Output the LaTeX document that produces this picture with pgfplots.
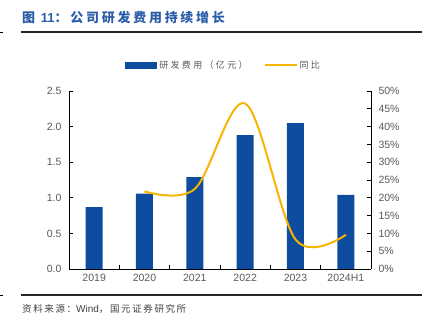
\documentclass[border=0pt]{standalone}
\usepackage{pgfplots}
\pgfplotsset{compat=1.18}
\usepackage{fontspec}
\setmainfont{Liberation Sans}
\newfontfamily\cjk{Noto Sans CJK SC}
\definecolor{barblue}{HTML}{0D4C9F}
\definecolor{linegold}{HTML}{F7B500}
\definecolor{titleblue}{HTML}{2A5CA8}
\definecolor{ticktext}{HTML}{595959}
\begin{document}
\begin{tikzpicture}[x=1pt,y=1pt]
\path[use as bounding box] (0,0) rectangle (429,326);
% title and rules
\node[anchor=west,inner sep=0pt,text=titleblue,font=\cjk\bfseries\addfontfeatures{LetterSpace=21}\fontsize{13}{14}\selectfont] at (22,308) {图 {\rmfamily\bfseries 11}：公司研发费用持续增长};
\draw[line width=1.4pt,black!85] (21,294) -- (422,294);
\draw[line width=1.2pt,black!85] (21,31) -- (422,31);
\draw[line width=0.8pt,black] (0,294) -- (3,294);
\draw[line width=0.8pt,black] (0,31) -- (3,31);
\node[anchor=west,inner sep=0pt,text=black!75,font=\cjk\addfontfeatures{LetterSpace=17}\fontsize{9.5}{10}\selectfont] at (22,17) {资料来源：{\rmfamily\fontsize{10}{10}\selectfont Wind}，国元证券研究所};

\begin{axis}[
  at={(69pt,57pt)}, anchor=south west,
  scale only axis, width=302pt, height=178pt,
  xmin=-0.5, xmax=5.5, ymin=0, ymax=2.5,
  axis x line*=bottom, axis y line*=left,
  axis line style={black, line width=0.8pt},
  xtick={0,1,2,3,4,5},
  xticklabels={2019,2020,2021,2022,2023,2024H1},
  major x tick style={draw=none},
  minor xtick={0.5,1.5,2.5,3.5,4.5},
  minor x tick style={black, line width=0.8pt},
  minor tick length=3.5pt,
  ytick={0,0.5,1,1.5,2,2.5},
  y tick style={black, line width=0.8pt},
  major tick length=3.5pt,
  tick align=inside,
  yticklabel style={/pgf/number format/fixed,/pgf/number format/fixed zerofill,/pgf/number format/precision=1},
  /pgf/number format/assume math mode=true,
  tick label style={font=\fontsize{10.5}{11}\selectfont, text=ticktext},
  xticklabel style={yshift=-2pt},
  yticklabel style={xshift=-4pt},
  legend columns=2,
  legend style={at={(0.512,1.145)}, anchor=center, draw=none, fill=none,
    font=\cjk\addfontfeatures{LetterSpace=26}\fontsize{9}{10}\selectfont, text=ticktext,
    /tikz/every even column/.append style={column sep=14pt}},
]
\addplot[ybar, bar width=17pt, fill=barblue, draw=none,
  legend image code/.code={\fill[barblue] (0pt,-3.5pt) rectangle (32pt,3.5pt);}]
  coordinates {(0,0.87) (1,1.057) (2,1.29) (3,1.88) (4,2.05) (5,1.04)};
\addlegendentry{研发费用（亿元）}
\addlegendimage{linegold, line width=2pt, legend image code/.code={\draw[linegold,line width=2pt] (0pt,0pt) -- (32pt,0pt);}}
\addlegendentry{同比}
\end{axis}

\begin{axis}[
  at={(69pt,57pt)}, anchor=south west,
  scale only axis, width=302pt, height=178pt,
  xmin=-0.5, xmax=5.5, ymin=0, ymax=50,
  axis x line=none, axis y line*=right,
  axis line style={black, line width=0.8pt},
  ytick={0,5,...,50},
  yticklabel={\pgfmathprintnumber{\tick}\%},
  y tick style={black, line width=0.8pt},
  major tick length=3.5pt,
  tick align=inside,
  /pgf/number format/assume math mode=true,
  tick label style={font=\fontsize{10.5}{11}\selectfont, text=ticktext},
  yticklabel style={xshift=4pt},
]
\addplot[linegold, line width=2pt, smooth, tension=0.55, mark=none]
  coordinates {(1,21.8) (2,22.5) (3,46.5) (4,8.3) (5,9.6)};
\end{axis}
\end{tikzpicture}
\end{document}
